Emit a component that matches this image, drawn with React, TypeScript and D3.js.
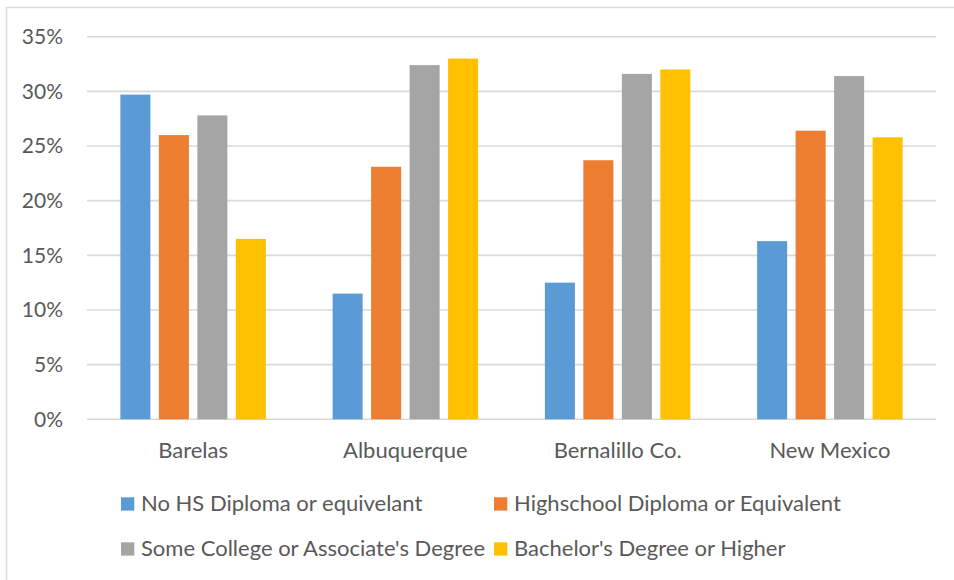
import React from "react";
import * as d3 from "d3";

const categories = ["Barelas", "Albuquerque", "Bernalillo Co.", "New Mexico"];
const seriesNames = [
  "No HS Diploma or equivelant",
  "Highschool Diploma or Equivalent",
  "Some College or Associate's Degree",
  "Bachelor's Degree or Higher",
];
const noDiploma = [0.297, 0.115, 0.125, 0.163];
const highSchool = [0.26, 0.231, 0.237, 0.264];
const someCollege = [0.278, 0.324, 0.316, 0.314];
const bachelors = [0.165, 0.33, 0.32, 0.258];
const yTicks = [0, 0.05, 0.1, 0.15, 0.2, 0.25, 0.3, 0.35];

const seriesValues = [noDiploma, highSchool, someCollege, bachelors];
const colors = ["#5B9BD5", "#ED7D31", "#A5A5A5", "#FFC000"];

const W = 954;
const H = 580;
const plot = { left: 87, right: 936, top: 36.7, bottom: 419.3 };
const FONT = "Lato, 'Open Sans', sans-serif";
const TEXT = "#595959";
const GRID = "#D9D9D9";

export default function App() {
  const x0 = d3
    .scaleBand<string>()
    .domain(categories)
    .range([plot.left, plot.right])
    .padding(0);
  const groupW = x0.bandwidth() * 0.6855;
  const x1 = d3
    .scaleBand<string>()
    .domain(seriesNames)
    .range([0, groupW])
    .paddingInner(0.22)
    .paddingOuter(0);
  const y = d3.scaleLinear().domain([0, 0.35]).range([plot.bottom, plot.top]);
  const fmt = d3.format(".0%");

  const legendCols = [121, 494];
  const legendRows = [497.3, 542.3];

  return (
    <svg
      width={W}
      height={H}
      style={{ position: "absolute", left: 0, top: 0, background: "#fff" }}
      fontFamily={FONT}
    >
      <rect x={6.5} y={7.5} width={W} height={H} fill="#fff" stroke={GRID} strokeWidth={1.5} />

      {yTicks.map((t) => (
        <g key={t}>
          <line
            x1={plot.left}
            x2={plot.right}
            y1={y(t)}
            y2={y(t)}
            stroke={GRID}
            strokeWidth={1.6}
          />
          <text
            x={63}
            y={y(t)}
            dy="0.35em"
            textAnchor="end"
            fontSize={21}
            fill={TEXT}
          >
            {fmt(t)}
          </text>
        </g>
      ))}

      {categories.map((c, ci) => {
        const gx = (x0(c) as number) + (x0.bandwidth() - groupW) / 2;
        return (
          <g key={c}>
            {seriesNames.map((s, si) => {
              const v = seriesValues[si][ci];
              return (
                <rect
                  key={s}
                  x={gx + (x1(s) as number)}
                  y={y(v)}
                  width={x1.bandwidth()}
                  height={y(0) - y(v)}
                  fill={colors[si]}
                />
              );
            })}
            <text
              x={(x0(c) as number) + x0.bandwidth() / 2}
              y={458.3}
              textAnchor="middle"
              fontSize={22}
              fill={TEXT}
            >
              {c}
            </text>
          </g>
        );
      })}

      {seriesNames.map((s, si) => {
        const lx = legendCols[si % 2];
        const ly = legendRows[Math.floor(si / 2)];
        return (
          <g key={s}>
            <rect x={lx} y={ly} width={13.3} height={13.3} fill={colors[si]} />
            <text x={lx + 20} y={ly + 13.7} fontSize={22} fill={TEXT}>
              {s}
            </text>
          </g>
        );
      })}
    </svg>
  );
}
